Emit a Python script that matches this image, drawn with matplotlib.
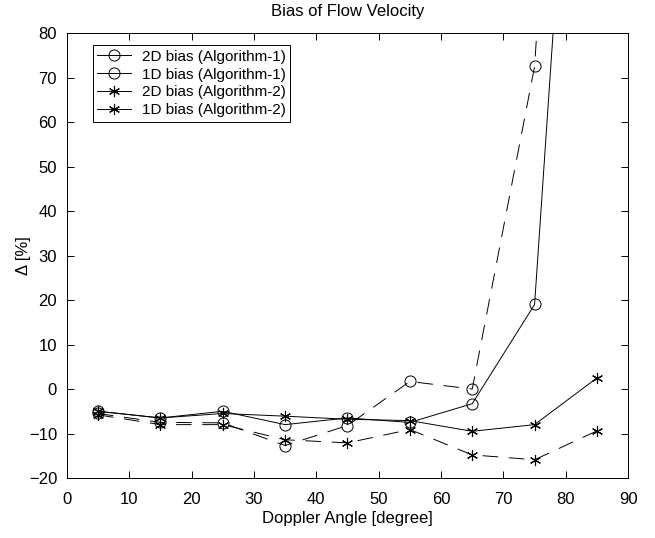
import matplotlib
matplotlib.use("Agg")
import matplotlib.pyplot as plt

plt.rcParams['font.family'] = ['Liberation Sans', 'DejaVu Sans']

# Doppler angles [degree]
angles = [5, 15, 25, 35, 45, 55, 65, 75, 85]

# bias values [%]
bias_2d_alg1 = [-5.0, -6.5, -5.0, -8.0, -6.5, -7.5, -3.3, 19.0, 225.0]
bias_1d_alg1 = [-5.5, -7.5, -7.6, -12.7, -8.2, 1.7, 0.0, 72.5, 290.0]
bias_2d_alg2 = [-5.0, -6.5, -5.5, -6.1, -6.8, -7.1, -9.5, -8.0, 2.5]
bias_1d_alg2 = [-5.8, -8.0, -8.0, -11.4, -12.1, -9.1, -14.8, -15.9, -9.4]

labels = ['2D bias (Algorithm-1)', '1D bias (Algorithm-1)',
          '2D bias (Algorithm-2)', '1D bias (Algorithm-2)']

fig = plt.figure(figsize=(6.55, 5.38), dpi=100)
ax = fig.add_axes([0.102, 0.1115, 0.857, 0.827])

lw = 0.7
dash = (16, 11)
asterisk = (6, 2, 0)
ax.plot(angles, bias_2d_alg1, '-', color='black', lw=lw, marker='o',
        mfc='none', ms=8, mew=0.7, label=labels[0])
ax.plot(angles, bias_1d_alg1, '--', color='black', lw=lw, marker='o',
        mfc='none', ms=8, mew=0.7, dashes=dash, label=labels[1])
ax.plot(angles, bias_2d_alg2, '-', color='black', lw=lw, marker=asterisk,
        ms=8, mew=0.8, label=labels[2])
ax.plot(angles, bias_1d_alg2, '--', color='black', lw=lw, marker=asterisk,
        ms=8, mew=0.8, dashes=dash, label=labels[3])

ax.set_xlim(0, 90)
ax.set_ylim(-20, 80)
ax.set_xticks(range(0, 91, 10))
ax.set_yticks(range(-20, 81, 10))
ax.tick_params(direction='in', top=True, right=True, length=5,
               width=0.7, labelsize=12)
ax.tick_params(axis='x', pad=10)
ax.tick_params(axis='y', pad=7)
for sp in ax.spines.values():
    sp.set_linewidth(0.7)

ax.set_title('Bias of Flow Velocity', fontsize=12, pad=12)
ax.set_xlabel('Doppler Angle [degree]', fontsize=12, labelpad=3)
ax.set_ylabel('\u0394 [%]', fontsize=12)
ax.yaxis.set_label_coords(-0.064, 0.5)

leg = ax.legend(loc='upper left', bbox_to_anchor=(0.046, 0.973),
                borderaxespad=0, fontsize=11, frameon=True, fancybox=False,
                edgecolor='black', framealpha=1, handlelength=2.2,
                borderpad=0.3, labelspacing=0.25, handletextpad=0.7)
leg.get_frame().set_linewidth(0.7)
# legend samples are drawn as short solid lines in the original
for ln in leg.get_lines():
    ln.set_linestyle('-')

fig.savefig('out.png', dpi=100)
